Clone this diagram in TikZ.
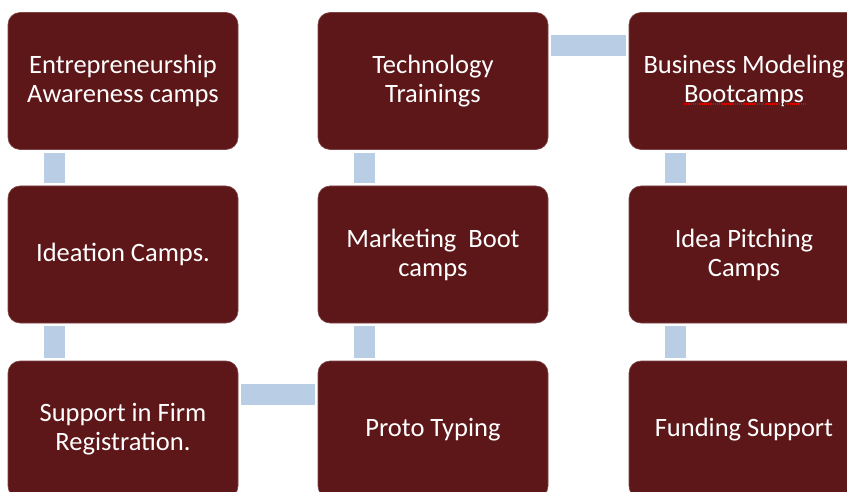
\documentclass[tikz,border=0pt]{standalone}
\usepackage{fontspec}
\setmainfont{Carlito}
\usepackage{tikz}
\definecolor{stagered}{HTML}{5E1719}
\definecolor{linkblue}{HTML}{B9CDE5}
\tikzset{
    stage/.style={
        rectangle, rounded corners=12pt,
        fill=stagered, draw=stagered!80!white, line width=0.6pt,
        minimum width=230pt, minimum height=137pt,
        text=white, align=center, inner sep=0pt,
        font=\fontsize{26.5}{29}\selectfont
    },
    link/.style={
        draw=linkblue, line width=21pt, line cap=butt
    },
    spell/.style={
        draw=red!90!black, densely dotted, line width=1.2pt
    }
}
% vertical bar from upper box a down to lower box b
\newcommand{\vlink}[2] {
	\draw[link] ([xshift=46.5pt,yshift=-3pt]#1.south west) -- ([xshift=46.5pt,yshift=3pt]#2.north west);
}
% horizontal bar from left box a across to right box b
\newcommand{\hlink}[2] {
	\draw[link] ([xshift=3pt,yshift=-33.5pt]#1.north east) -- ([xshift=-3pt,yshift=-33.5pt]#2.north west);
}

\begin{document}
\begin{tikzpicture}[x=1pt,y=-1pt]
		\useasboundingbox (0,0) rectangle (847,492);

		% First column
		\node[stage] (eac) at (123,81) {Entrepreneurship\\Awareness camps};
		\node[stage] (ic)  at (123,254.5) {Ideation Camps.};
		\node[stage] (sfr) at (123,429.5) {Support in Firm\\Registration.};

		% Second column
		\node[stage] (tt)  at (433,81) {Technology\\Trainings};
		\node[stage] (mbc) at (433,254.5) {Marketing\ \ Boot\\camps};
		\node[stage] (pt)  at (433,429.5) {Proto Typing};

		% Third column
		\node[stage] (bmb) at (744,81) {Business Modeling\\Bootcamps};
		\node[stage] (ipc) at (744,254.5) {Idea Pitching\\Camps};
		\node[stage] (fs)  at (744,429.5) {Funding Support};

		% spell-check mark under the second line
		\draw[spell] ([xshift=-60pt,yshift=-23pt]bmb.center) -- ++(122,0);

		% Bars between the boxes
		\vlink{eac}{ic}
		\vlink{ic}{sfr}
		\hlink{sfr}{pt}
		\vlink{mbc}{pt}
		\vlink{tt}{mbc}
		\hlink{tt}{bmb}
		\vlink{bmb}{ipc}
		\vlink{ipc}{fs}

	\end{tikzpicture}
\end{document}
